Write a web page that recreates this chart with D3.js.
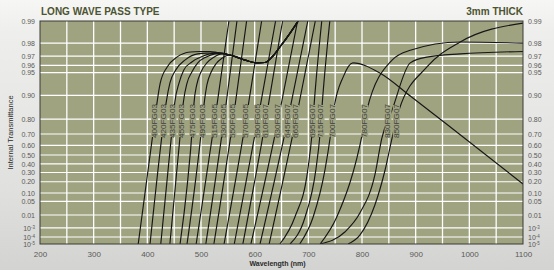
<!DOCTYPE html>
<html>
<head>
<meta charset="utf-8">
<script src="https://cdn.jsdelivr.net/npm/d3@7"></script>
<style>
    html, body { margin: 0; padding: 0; background: #e4e4e2; }
    svg { display: block; }
</style>
</head>
<body>
<svg id="chart" width="554" height="270"></svg>
<script>
// Wavelength ticks (labels every 100 nm, grid every 50 nm)
const xTickValues = [200, 300, 400, 500, 600, 700, 800, 900, 1000, 1100];
const xGridValues = [250, 300, 350, 400, 450, 500, 550, 600, 650, 700, 750, 800, 850, 900, 950, 1000, 1050];

// Transmittance ticks on the double-log axis
const yTickValues = [0.99, 0.98, 0.97, 0.96, 0.95, 0.90, 0.80, 0.70, 0.60, 0.50, 0.40, 0.30, 0.20, 0.10, 0.05, 0.01, 1e-3, 1e-4, 1e-5];
const yTickLabels = ["0.99", "0.98", "0.97", "0.96", "0.95", "0.90", "0.80", "0.70", "0.60", "0.50", "0.40", "0.30", "0.20", "0.10", "0.05", "0.01", "10^-3", "10^-4", "10^-5"];

// Shared plateau of the yellow glasses (FG03), [wavelength nm, transmittance]
const ggPlateau = [[554, 0.971], [582, 0.966], [604, 0.963], [619, 0.9634], [632, 0.969], [647, 0.9774], [666, 0.9854], [681, 0.99]];

const fg400 = [[383, 1e-5], [414, 0.8], [418, 0.875], [424, 0.931], [437, 0.958], [455, 0.969], [480, 0.9736], [498, 0.974], [517, 0.974], [530, 0.9732]];
const fg420 = [[405, 1e-5], [431, 0.8], [435, 0.875], [442, 0.931], [453, 0.954], [470, 0.966], [494, 0.972], [517, 0.9728], [530, 0.9732]];
const fg435 = [[425, 1e-5], [448, 0.8], [451, 0.875], [459, 0.931], [468, 0.954], [483, 0.964], [504, 0.970], [522, 0.9725], [535, 0.9725]];
const fg455 = [[442, 1e-5], [464, 0.8], [467, 0.875], [474, 0.931], [483, 0.951], [494, 0.963], [509, 0.969], [526, 0.972], [540, 0.9725]];
const fg475 = [[461, 1e-5], [485, 0.8], [487, 0.875], [492, 0.927], [500, 0.951], [511, 0.963], [524, 0.969], [539, 0.972]];
const fg495 = [[474, 1e-5], [503, 0.8], [506, 0.875], [511, 0.927], [519, 0.951], [528, 0.962], [539, 0.968]];

const fg515 = [[491, 1e-5], [526, 0.8], [552, 0.99]];
const fg530 = [[509, 1e-5], [543, 0.8], [567, 0.99]];
const fg550 = [[524, 1e-5], [560, 0.8], [585, 0.99]];
const fg570 = [[543, 1e-5], [584, 0.8], [613, 0.99]];
const fg590 = [[562, 1e-5], [606, 0.8], [639, 0.99]];
const fg610 = [[578, 1e-5], [621, 0.8], [652, 0.99]];
const fg630 = [[593, 1e-5], [644, 0.8], [680, 0.99]];
const fg645 = [[610, 1e-5], [662, 0.8], [699, 0.99]];
const fg665 = [[627, 1e-5], [677, 0.8], [713, 0.99]];
const fg695 = [[647, 1e-5], [675, 0.0074], [699, 0.33], [707, 0.71], [711, 0.875], [725, 0.99]];
const fg715 = [[666, 1e-5], [694, 0.0074], [714, 0.33], [722, 0.71], [726, 0.875], [740, 0.99]];
const fg700 = [[684, 1e-5], [709, 0.0074], [731, 0.33], [742, 0.71], [748, 0.855], [765, 0.943], [783, 0.963], [834, 0.949], [890, 0.898], [955, 0.777], [1100, 0.177]];
const fg780 = [[722, 1e-5], [753, 0.0074], [802, 0.73], [809, 0.846], [856, 0.966], [890, 0.975], [983, 0.9807], [1100, 0.980]];
const fg830 = [[722, 1e-5], [768, 3.8e-4], [796, 0.0132], [824, 0.272], [837, 0.667], [856, 0.846], [890, 0.963], [921, 0.969], [983, 0.972], [1100, 0.974]];
const fg850 = [[774, 1e-5], [796, 1.7e-4], [824, 0.035], [843, 0.329], [856, 0.667], [869, 0.846], [921, 0.958], [983, 0.9807], [1100, 0.9893]];

const filterNames = ["400FG03", "420FG03", "435FG03", "455FG03", "475FG03", "495FG03",
    "515FG05", "530FG05", "550FG05", "570FG05", "590FG05",
    "610FG07", "630FG07", "645FG07", "665FG07", "695FG07", "715FG07", "700FG07", "780FG07", "830FG07", "850FG07"];
const filterCurves = [
    fg400.concat(ggPlateau), fg420.concat(ggPlateau), fg435.concat(ggPlateau),
    fg455.concat(ggPlateau), fg475.concat(ggPlateau), fg495.concat(ggPlateau),
    fg515, fg530, fg550, fg570, fg590,
    fg610, fg630, fg645, fg665, fg695, fg715, fg700, fg780, fg830, fg850
];

const svg = d3.select("#chart");
const width = 554;
const height = 270;
const plot = { left: 40, right: 523, top: 21, bottom: 244 };
const plotFill = "#9fa380";
const labelY = 121;

const dbl = t => Math.log10(-Math.log10(t));
const x = d3.scaleLinear().domain([200, 1100]).range([plot.left, plot.right]);
const yDbl = d3.scaleLinear().domain([dbl(0.99), dbl(1e-5)]).range([plot.top, plot.bottom]);
const y = t => yDbl(dbl(t));

// brushed metal backdrop
const defs = svg.append("defs");
const bg = defs.append("linearGradient").attr("id", "metal").attr("x1", 0).attr("x2", 0).attr("y1", 0).attr("y2", 1);
bg.append("stop").attr("offset", "0%").attr("stop-color", "#f6f6f4");
bg.append("stop").attr("offset", "12%").attr("stop-color", "#eeeeec");
bg.append("stop").attr("offset", "70%").attr("stop-color", "#e0e0de");
bg.append("stop").attr("offset", "100%").attr("stop-color", "#d3d3d1");

defs.append("clipPath").attr("id", "plot-clip")
    .append("rect")
    .attr("x", plot.left).attr("y", plot.top)
    .attr("width", plot.right - plot.left).attr("height", plot.bottom - plot.top);

svg.append("rect").attr("width", width).attr("height", height).attr("fill", "url(#metal)");

svg.append("rect")
    .attr("x", plot.left).attr("y", plot.top)
    .attr("width", plot.right - plot.left).attr("height", plot.bottom - plot.top)
    .attr("fill", plotFill);

// white grid
svg.append("g")
    .selectAll("line")
    .data(xGridValues)
    .join("line")
    .attr("x1", d => x(d)).attr("x2", d => x(d))
    .attr("y1", plot.top).attr("y2", plot.bottom)
    .attr("stroke", "#ffffff").attr("stroke-width", 1.3);

svg.append("g")
    .selectAll("line")
    .data(yTickValues.slice(1, -1))
    .join("line")
    .attr("x1", plot.left).attr("x2", plot.right)
    .attr("y1", d => y(d)).attr("y2", d => y(d))
    .attr("stroke", "#ffffff").attr("stroke-width", 1.1);

// filter curves
const line = d3.line()
    .x(d => x(d[0]))
    .y(d => y(d[1]))
    .curve(d3.curveMonotoneX);

svg.append("g")
    .attr("clip-path", "url(#plot-clip)")
    .selectAll("path")
    .data(filterCurves)
    .join("path")
    .attr("d", line)
    .attr("fill", "none")
    .attr("stroke", "#161616")
    .attr("stroke-width", 1.15);

// x position where a curve crosses the label row
function crossAt(points, py) {
    for (let i = 1; i < points.length; i++) {
        const y0 = y(points[i - 1][1]);
        const y1 = y(points[i][1]);
        if ((y0 - py) * (y1 - py) <= 0 && y0 !== y1) {
            const k = (py - y0) / (y1 - y0);
            return x(points[i - 1][0]) + k * (x(points[i][0]) - x(points[i - 1][0]));
        }
    }
    return x(points[0][0]);
}

const labelGroup = svg.append("g")
    .selectAll("g")
    .data(filterNames)
    .join("g")
    .attr("transform", (d, i) => `translate(${crossAt(filterCurves[i], labelY)},${labelY})`);

labelGroup.append("rect")
    .attr("x", -3.5).attr("y", -16)
    .attr("width", 7).attr("height", 32)
    .attr("fill", plotFill);

labelGroup.append("text")
    .attr("transform", "rotate(-90) scale(1.3,1)")
    .attr("text-anchor", "middle")
    .attr("dy", "0.35em")
    .attr("font-family", "'Liberation Sans Narrow', 'Liberation Sans', sans-serif")
    .attr("font-size", 6.3)
    .attr("fill", "#3e3e3e")
    .text(d => d);

// plot frame
svg.append("rect")
    .attr("x", plot.left).attr("y", plot.top)
    .attr("width", plot.right - plot.left).attr("height", plot.bottom - plot.top)
    .attr("fill", "none")
    .attr("stroke", "#3a3a36")
    .attr("stroke-width", 1);

// axes
const tickFont = "'Liberation Sans Narrow', 'Liberation Sans', sans-serif";

const xAxis = svg.append("g")
    .attr("transform", `translate(0,${plot.bottom})`)
    .call(d3.axisBottom(x).tickValues(xTickValues).tickSize(0).tickPadding(7).tickFormat(d3.format("d")));

xAxis.selectAll(".tick text").attr("font-size", 8);

function drawYAxis(axis, offset) {
    const g = svg.append("g")
        .attr("transform", `translate(${offset},0)`)
        .call(axis.tickValues(yTickValues.map(dbl)).tickSize(0).tickPadding(5).tickFormat(() => ""));
    g.selectAll(".tick text")
        .attr("font-size", 7)
        .each(function (d, i) {
            const [base, exp] = yTickLabels[i].split("^");
            const t = d3.select(this).text(base);
            if (exp) {
                t.append("tspan").attr("dy", "-0.4em").attr("font-size", 4.5).text(exp);
            }
        });
    return g;
}

const yLeft = drawYAxis(d3.axisLeft(yDbl), plot.left);
const yRight = drawYAxis(d3.axisRight(yDbl), plot.right);

for (const g of [xAxis, yLeft, yRight]) {
    g.select(".domain").remove();
    g.selectAll(".tick text")
        .attr("font-family", tickFont)
        .attr("fill", "#5a5a58");
}

// titles
svg.append("text")
    .attr("x", plot.left + 1).attr("y", 15)
    .attr("font-family", tickFont)
    .attr("font-size", 10)
    .attr("font-weight", "bold")
    .attr("fill", "#4c5432")
    .text("LONG WAVE PASS TYPE");

svg.append("text")
    .attr("x", plot.right).attr("y", 15)
    .attr("text-anchor", "end")
    .attr("font-family", tickFont)
    .attr("font-size", 10)
    .attr("font-weight", "bold")
    .attr("fill", "#4c5432")
    .text("3mm THICK");

svg.append("text")
    .attr("transform", `translate(13,${(plot.top + plot.bottom) / 2}) rotate(-90)`)
    .attr("text-anchor", "middle")
    .attr("font-family", "'Liberation Sans', sans-serif")
    .attr("font-size", 7.5)
    .attr("fill", "#2a2a2a")
    .text("Internal Transmittance");

svg.append("text")
    .attr("x", (plot.left + plot.right) / 2 - 4).attr("y", 266)
    .attr("text-anchor", "middle")
    .attr("font-family", "'Liberation Sans', sans-serif")
    .attr("font-size", 7)
    .attr("font-weight", "bold")
    .attr("fill", "#2a2a2a")
    .text("Wavelength (nm)");
</script>
</body>
</html>
